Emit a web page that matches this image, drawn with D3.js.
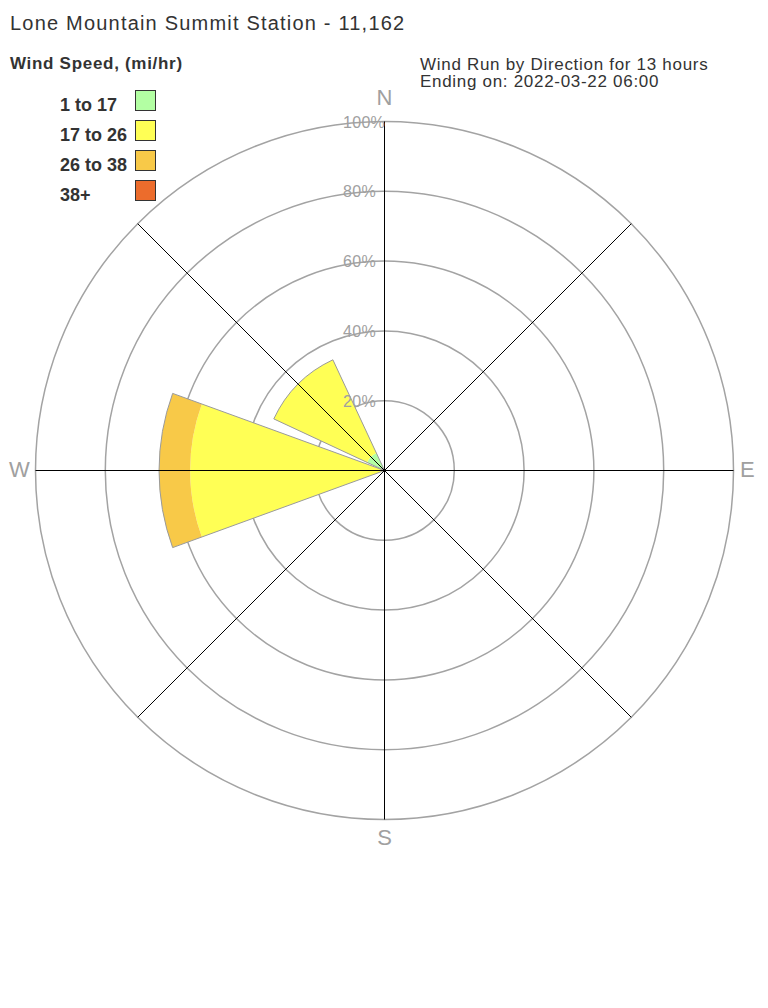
<!DOCTYPE html>
<html><head><meta charset="utf-8">
<script src="https://cdn.jsdelivr.net/npm/d3@7"></script>
<style>html,body{margin:0;padding:0;background:#fff;}svg{display:block;font-family:"Liberation Sans",Arial,sans-serif;}</style>
</head><body>
<svg id="c" width="768" height="1008"></svg>
<script>
const directions = ["N","NE","E","SE","S","SW","W","NW"];
const bearings = [0,45,90,135,180,225,270,315];
const speedBins = ["1 to 17","17 to 26","26 to 38","38+"];
const binColors = ["#b3ffa3","#ffff55","#f8c948","#ec6c2c"];
const bin1 = [0,0,0,0,0,0,0,5.5];
const bin2 = [0,0,0,0,0,0,55.7,29.5];
const bin3 = [0,0,0,0,0,0,8.9,0];
const bin4 = [0,0,0,0,0,0,0,0];
const ringTicks = [20,40,60,80,100];
const compassLabels = ["N","E","S","W"];

const svg = d3.select("#c");
const cx = 384.5, cy = 470.5, R = 349;
const r = d3.scaleLinear().domain([0,100]).range([0,R]);
const halfWidth = 20 * Math.PI/180;
const g = svg.append("g").attr("transform",`translate(${cx},${cy})`);

// rings
g.selectAll("circle.ring").data(ringTicks).join("circle")
  .attr("r", d=>r(d)).attr("fill","none").attr("stroke","#a3a3a3").attr("stroke-width",1.5);

// wedges
const bins = [bin1,bin2,bin3,bin4];
const arc = d3.arc();
const segs = [];
directions.forEach((d,i)=>{
  let cum = 0;
  bins.forEach((b,k)=>{
    const v = b[i];
    if (v > 0) {
      segs.push({i,k,inner:cum,outer:cum+v});
    }
    cum += v;
  });
});
g.selectAll("path.seg").data(segs).join("path")
  .attr("d", s=>{
    const a = bearings[s.i]*Math.PI/180;
    return arc({innerRadius:r(s.inner), outerRadius:r(s.outer), startAngle:a-halfWidth, endAngle:a+halfWidth});
  })
  .attr("fill", s=>binColors[s.k]).attr("stroke","none");
// wedge outline
const totals = directions.map((d,i)=>bins.reduce((s,b)=>s+b[i],0));
g.selectAll("path.out").data(totals.map((t,i)=>({t,i})).filter(d=>d.t>0)).join("path")
  .attr("d", d=>{
    const a = bearings[d.i]*Math.PI/180;
    return arc({innerRadius:0, outerRadius:r(d.t), startAngle:a-halfWidth, endAngle:a+halfWidth});
  })
  .attr("fill","none").attr("stroke","#9a9a9a").attr("stroke-width",1);

// direction lines
g.selectAll("line.dir").data(bearings).join("line")
  .attr("x1",0).attr("y1",0)
  .attr("x2", d=>R*Math.sin(d*Math.PI/180)).attr("y2", d=>-R*Math.cos(d*Math.PI/180))
  .attr("stroke","#000").attr("stroke-width",1);

// ring labels
g.selectAll("text.rl").data(ringTicks).join("text")
  .attr("x", -41.5).attr("y", d=>-r(d)+6)
  .attr("fill","#a0a0a0").attr("font-size",16).attr("letter-spacing",0.3).text(d=>d+"%");

// compass labels
const cl = [{t:"N",x:cx,y:105,a:"middle"},{t:"E",x:740,y:477,a:"start"},{t:"S",x:cx,y:845,a:"middle"},{t:"W",x:9,y:477,a:"start"}];
svg.selectAll("text.cl").data(cl).join("text")
  .attr("x",d=>d.x).attr("y",d=>d.y).attr("text-anchor",d=>d.a)
  .attr("fill","#a0a0a0").attr("font-size",22).text(d=>d.t);

// title
svg.append("text").attr("x",10).attr("y",29.5).attr("font-size",20).attr("letter-spacing",1.2).attr("fill","#333").text("Lone Mountain Summit Station - 11,162");
svg.append("text").attr("x",10).attr("y",68.5).attr("font-size",17).attr("letter-spacing",0.7).attr("font-weight","bold").attr("fill","#333").text("Wind Speed, (mi/hr)");
svg.append("text").attr("x",420).attr("y",70).attr("font-size",17).attr("letter-spacing",0.7).attr("fill","#333").text("Wind Run by Direction for 13 hours");
svg.append("text").attr("x",420).attr("y",87).attr("font-size",17).attr("letter-spacing",0.7).attr("fill","#333").text("Ending on: 2022-03-22 06:00");

// legend
const lg = svg.append("g");
lg.selectAll("text").data(speedBins).join("text")
  .attr("x",60).attr("y",(d,i)=>110.5+30*i).attr("font-size",18).attr("font-weight","bold").attr("fill","#333").text(d=>d);
lg.selectAll("rect").data(speedBins).join("rect")
  .attr("x",135.5).attr("y",(d,i)=>90.5+30*i).attr("width",20).attr("height",20)
  .attr("fill",(d,i)=>binColors[i]).attr("stroke","#333").attr("stroke-width",1);
</script>
</body></html>
